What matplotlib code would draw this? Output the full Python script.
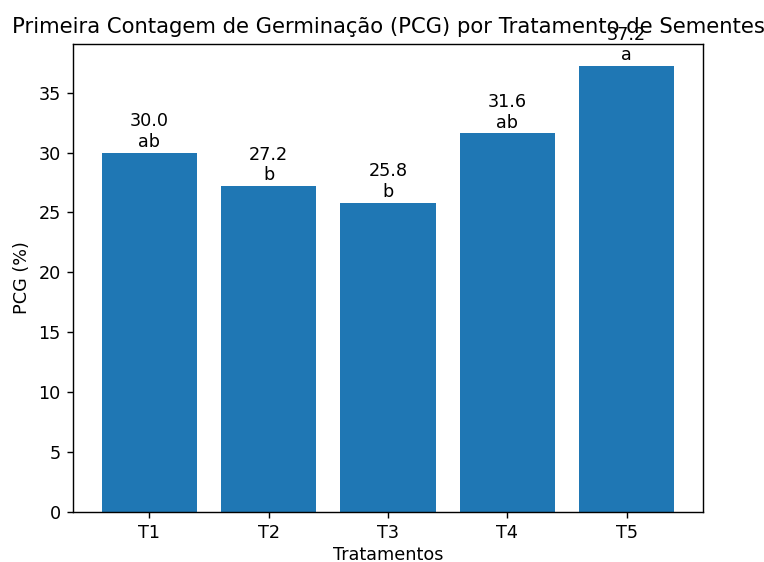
import matplotlib
matplotlib.use('Agg')
import matplotlib.pyplot as plt

# data
tratamentos = ['T1', 'T2', 'T3', 'T4', 'T5']
pcg = [30.0, 27.2, 25.8, 31.6, 37.2]
letras = ['ab', 'b', 'b', 'ab', 'a']

dpi = 127
W, H = 764, 562
fig = plt.figure(figsize=(W / dpi, H / dpi), dpi=dpi)
ax = fig.add_axes([73 / W, (H - 512) / H, 630 / W, 468 / H])

bars = ax.bar(tratamentos, pcg, color='#1f77b4')

for b, v, l in zip(bars, pcg, letras):
    ax.text(b.get_x() + b.get_width() / 2, v + 0.15, f'{v:.1f}\n{l}',
            ha='center', va='bottom', fontsize=10)

ax.set_title('Primeira Contagem de Germinação (PCG) por Tratamento de Sementes')
ax.set_xlabel('Tratamentos', labelpad=2)
ax.set_ylabel('PCG (%)')

fig.savefig('out.png', dpi=dpi)
